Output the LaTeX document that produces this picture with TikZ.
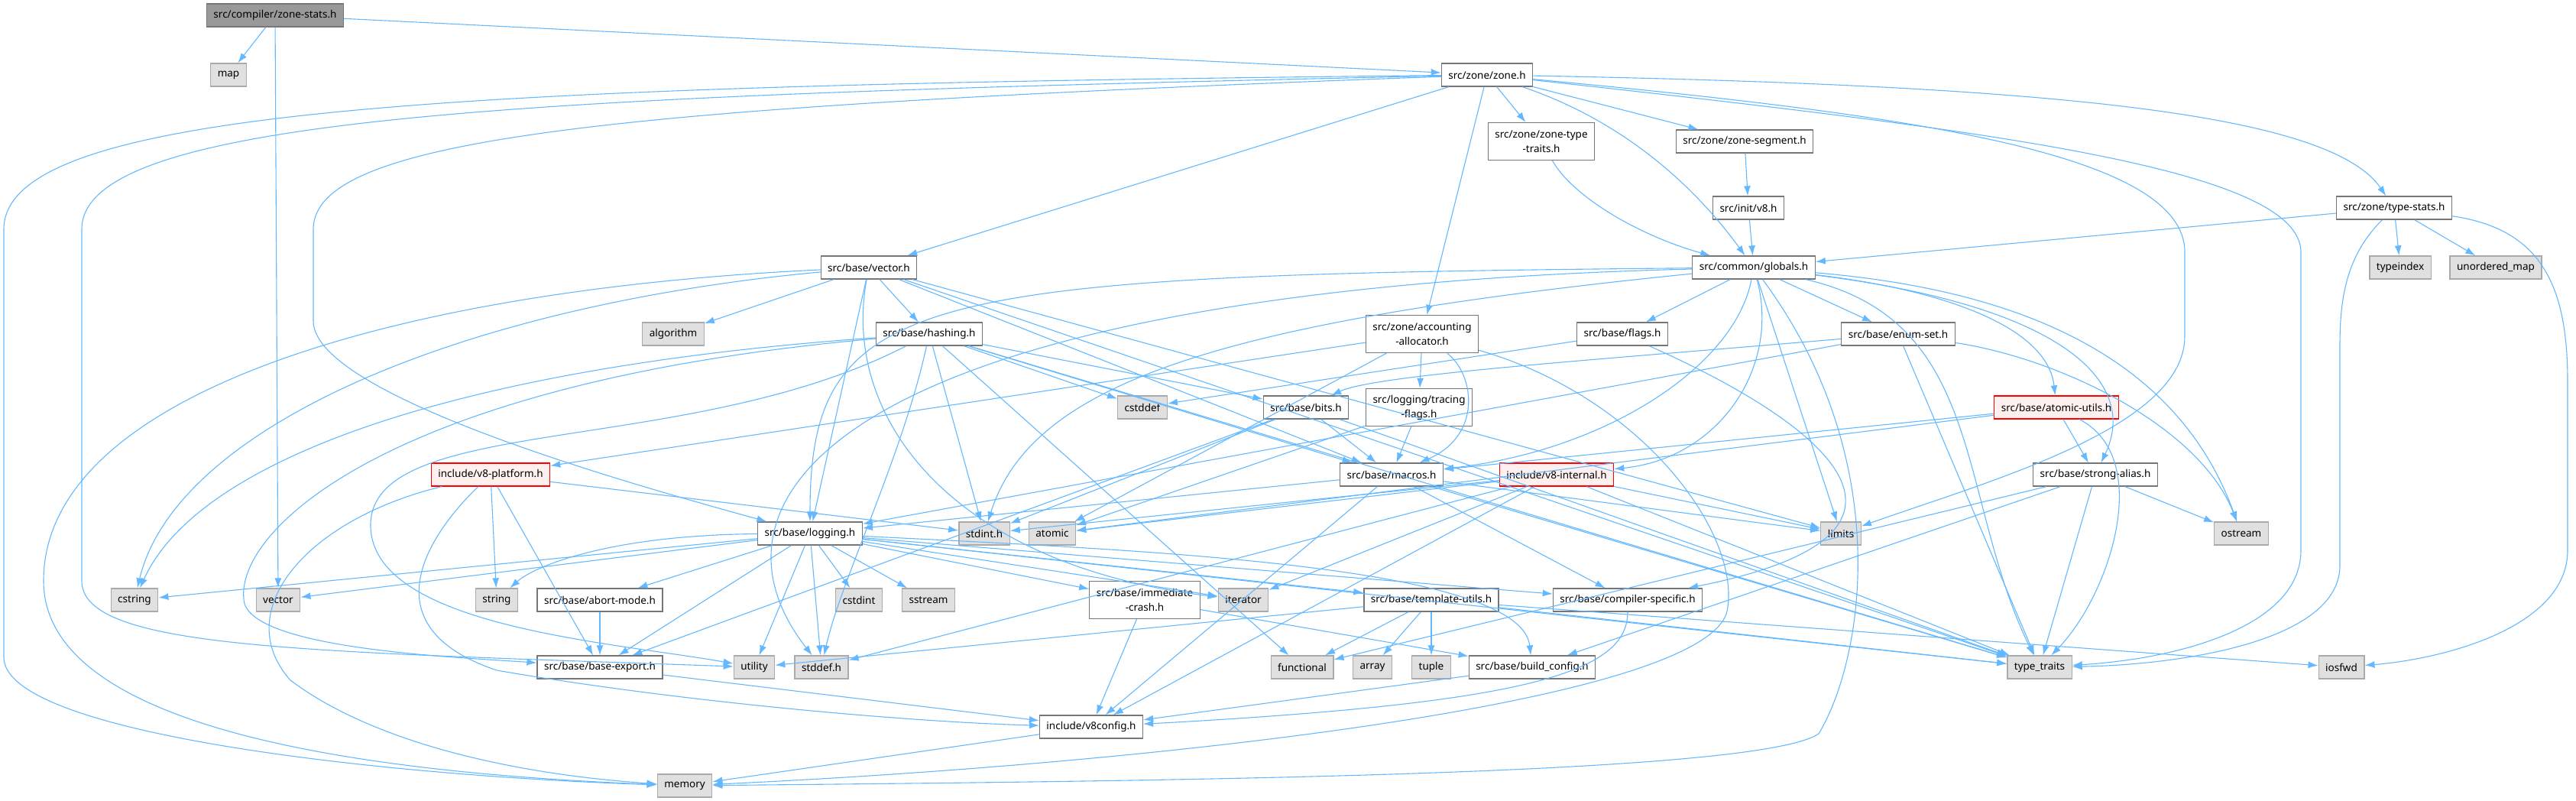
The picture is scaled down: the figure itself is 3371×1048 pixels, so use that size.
\documentclass[tikz,border=0pt]{standalone}
\usepackage{fontspec}
\setmainfont{Noto Sans}
\usetikzlibrary{arrows.meta}
\definecolor{EdgeBlue}{RGB}{99,184,255}
\definecolor{FileLine}{RGB}{118,118,118}
\definecolor{SysLine}{RGB}{170,170,170}
\definecolor{SysFill}{RGB}{224,224,224}
\definecolor{WarnFill}{RGB}{255,240,240}
\definecolor{RootFill}{RGB}{153,153,153}
\begin{document}
\begin{tikzpicture}[
x=1pt,y=-1pt,
box/.style={rectangle,draw=FileLine,fill=white,line width=1.3pt,minimum height=30pt,inner xsep=9pt,inner ysep=0pt,align=center,font=\fontsize{13.5}{19}\selectfont},
tall/.style={box,minimum height=49pt},
sys/.style={box,draw=SysLine,fill=SysFill},
warn/.style={box,draw=red,fill=WarnFill},
root/.style={box,draw=FileLine,fill=RootFill},
arrow/.style={-{Latex[length=13pt,width=9pt]},line width=1.1pt,draw=EdgeBlue}
]
\path[use as bounding box] (0,0) rectangle (3371,1048);
% nodes
\node[root] (zs) at (360,20) {src/compiler/zone-stats.h};
\node[sys] (map) at (299,98) {map};
\node[box] (zone) at (1946,98) {src/zone/zone.h};
\node[tall] (ztt) at (2017,185) {src/zone/zone-type\\-traits.h};
\node[box] (zseg) at (2283,185) {src/zone/zone-segment.h};
\node[box] (v8h) at (2288,272) {src/init/v8.h};
\node[box] (tstat) at (3133,272) {src/zone/type-stats.h};
\node[box] (glob) at (2295,350) {src/common/globals.h};
\node[sys] (tidx) at (3141,350) {typeindex};
\node[sys] (umap) at (3266,350) {unordered\_map};
\node[box] (bvec) at (1137,350) {src/base/vector.h};
\node[sys] (algo) at (881,437) {algorithm};
\node[box] (hash) at (1216,437) {src/base/hashing.h};
\node[tall] (acc) at (1861,437) {src/zone/accounting\\-allocator.h};
\node[box] (flags) at (2123,437) {src/base/flags.h};
\node[box] (eset) at (2484,437) {src/base/enum-set.h};
\node[sys] (cdef) at (1495,533) {cstddef};
\node[box] (bits) at (1709,533) {src/base/bits.h};
\node[tall] (trc) at (1857,533) {src/logging/tracing\\-flags.h};
\node[warn] (atu) at (2691,533) {src/base/atomic-utils.h};
\node[warn] (plat) at (642,621) {include/v8-platform.h};
\node[box] (mac) at (1821,621) {src/base/macros.h};
\node[warn] (v8i) at (2037,621) {include/v8-internal.h};
\node[box] (sal) at (2742,621) {src/base/strong-alias.h};
\node[box] (log) at (1060,698) {src/base/logging.h};
\node[sys] (sint) at (1288,698) {stdint.h};
\node[sys] (atom) at (1377,698) {atomic};
\node[sys] (lim) at (2409,698) {limits};
\node[sys] (ostr) at (2933,698) {ostream};
\node[sys] (cstr) at (176,785) {cstring};
\node[sys] (svec) at (364,785) {vector};
\node[sys] (str) at (650,785) {string};
\node[box] (abm) at (785,785) {src/base/abort-mode.h};
\node[sys] (cint) at (1124,785) {cstdint};
\node[sys] (sstr) at (1215,785) {sstream};
\node[tall] (icr) at (1498,785) {src/base/immediate\\-crash.h};
\node[sys] (iter) at (1627,785) {iterator};
\node[box] (tpl) at (1873,785) {src/base/template-utils.h};
\node[box] (comp) at (2130,785) {src/base/compiler-specific.h};
\node[box] (bexp) at (785,873) {src/base/base-export.h};
\node[sys] (util) at (987,873) {utility};
\node[sys] (sdef) at (1075,873) {stddef.h};
\node[sys] (func) at (1704,873) {functional};
\node[sys] (arr) at (1796,873) {array};
\node[sys] (tup) at (1873,873) {tuple};
\node[box] (bcfg) at (2005,873) {src/base/build\_config.h};
\node[sys] (tt) at (2669,873) {type\_traits};
\node[sys] (iosf) at (3064,873) {iosfwd};
\node[box] (v8c) at (1428,951) {include/v8config.h};
\node[sys] (mem) at (896,1028) {memory};
% zone-stats.h and zone.h
\draw[arrow] (zs)--(map); \draw[arrow] (zs)--(svec);
\draw[arrow] (zs)--(zone);
\draw[arrow] (zone)--(bvec); \draw[arrow] (zone)--(ztt);
\draw[arrow] (zone)--(zseg); \draw[arrow] (zone)--(acc);
\draw[arrow] (zone) .. controls (2100,150) and (2200,220) .. (glob);
\draw[arrow] (zone) .. controls (2700,112) and (3050,150) .. (tstat);
\draw[arrow] (zone) .. controls (2500,150) and (2859,200) .. (2859,330) -- (2859,440) .. controls (2859,560) and (2600,630) .. (lim);
\draw[arrow] (zone) .. controls (2600,170) and (3011,220) .. (3011,330) -- (3011,720) .. controls (3011,820) and (2850,862) .. (tt);
\draw[arrow] (zone) .. controls (600,112) and (5,140) .. (5,300) -- (5,860) .. controls (5,960) and (500,1015) .. (mem);
\draw[arrow] (zone) .. controls (700,125) and (107,150) .. (107,300) -- (107,760) .. controls (107,850) and (400,852) .. (util);
\draw[arrow] (zone) .. controls (800,140) and (410,180) .. (410,300) -- (410,420) .. controls (410,520) and (850,640) .. (log);
\draw[arrow] (ztt) .. controls (2060,260) and (2150,310) .. (glob);
\draw[arrow] (zseg)--(v8h); \draw[arrow] (v8h)--(glob);
% type-stats.h
\draw[arrow] (tstat)--(glob); \draw[arrow] (tstat)--(tidx);
\draw[arrow] (tstat)--(umap);
\draw[arrow] (tstat) .. controls (3075,330) and (3062,380) .. (3062,450) -- (3062,740) .. controls (3062,840) and (2850,870) .. (tt);
\draw[arrow] (tstat) .. controls (3330,300) and (3360,380) .. (3360,500) -- (3360,720) .. controls (3360,820) and (3200,862) .. (iosf);
% globals.h
\draw[arrow] (glob)--(flags); \draw[arrow] (glob)--(eset);
\draw[arrow] (glob)--(lim);
\draw[arrow] (glob) .. controls (2270,480) and (2100,590) .. (mac);
\draw[arrow] (glob) .. controls (2330,480) and (2250,600) .. (v8i);
\draw[arrow] (glob) .. controls (1200,360) and (1060,380) .. (log);
\draw[arrow] (glob) .. controls (1100,380) and (900,650) .. (sdef);
\draw[arrow] (glob) .. controls (1600,420) and (1350,500) .. (sint);
\draw[arrow] (glob) .. controls (2550,380) and (2680,430) .. (atu);
\draw[arrow] (glob) .. controls (2700,400) and (2800,500) .. (sal);
\draw[arrow] (glob) .. controls (2650,380) and (2850,470) .. (ostr);
\draw[arrow] (glob) .. controls (2600,420) and (2560,650) .. (tt);
\draw[arrow] (glob) .. controls (2480,600) and (2440,860) .. (2380,960) .. controls (2300,1015) and (1500,1022) .. (mem);
% vector.h and hashing.h
\draw[arrow] (bvec)--(algo); \draw[arrow] (bvec)--(hash);
\draw[arrow] (bvec)--(log); \draw[arrow] (bvec)--(lim);
\draw[arrow] (bvec)--(tt); \draw[arrow] (bvec)--(mac);
\draw[arrow] (bvec) .. controls (1100,550) and (1250,740) .. (iter);
\draw[arrow] (bvec) .. controls (500,380) and (57,520) .. (57,760) .. controls (57,960) and (500,1012) .. (mem);
\draw[arrow] (bvec) .. controls (600,400) and (230,560) .. (cstr);
\draw[arrow] (hash)--(cdef); \draw[arrow] (hash)--(bits);
\draw[arrow] (hash)--(sint); \draw[arrow] (hash)--(mac);
\draw[arrow] (hash)--(tt); \draw[arrow] (hash)--(func);
\draw[arrow] (hash) .. controls (1180,600) and (1100,760) .. (sdef);
\draw[arrow] (hash) .. controls (600,480) and (260,600) .. (cstr);
\draw[arrow] (hash) .. controls (500,500) and (300,700) .. (320,790) .. controls (340,850) and (600,860) .. (bexp);
\draw[arrow] (hash) .. controls (900,600) and (480,540) .. (485,690) .. controls (490,820) and (800,840) .. (util);
% accounting-allocator.h, bits.h, flags.h, enum-set.h
\draw[arrow] (acc)--(trc); \draw[arrow] (acc)--(plat);
\draw[arrow] (acc)--(atom);
\draw[arrow] (acc) .. controls (1930,490) and (1940,570) .. (mac);
\draw[arrow] (acc) .. controls (2150,520) and (2280,700) .. (2260,800) .. controls (2230,920) and (1500,1000) .. (mem);
\draw[arrow] (trc)--(mac); \draw[arrow] (trc)--(atom);
\draw[arrow] (bits)--(mac); \draw[arrow] (bits)--(sint);
\draw[arrow] (bits)--(tt); \draw[arrow] (bits)--(bexp);
\draw[arrow] (flags)--(cdef);
\draw[arrow] (flags) .. controls (2400,560) and (2560,700) .. (comp);
\draw[arrow] (eset)--(log); \draw[arrow] (eset)--(tt);
\draw[arrow] (eset) .. controls (2100,470) and (1800,490) .. (bits);
\draw[arrow] (eset) .. controls (2700,470) and (2880,560) .. (ostr);
% atomic-utils.h, strong-alias.h, v8-platform.h
\draw[arrow] (atu)--(mac); \draw[arrow] (atu)--(sal);
\draw[arrow] (atu)--(atom);
\draw[arrow] (atu) .. controls (2820,600) and (2760,780) .. (tt);
\draw[arrow] (sal)--(ostr); \draw[arrow] (sal)--(tt);
\draw[arrow] (sal)--(func); \draw[arrow] (sal)--(bcfg);
\draw[arrow] (plat)--(sint); \draw[arrow] (plat)--(str);
\draw[arrow] (plat)--(bexp);
\draw[arrow] (plat) .. controls (400,680) and (300,800) .. (380,890) .. controls (500,980) and (700,1015) .. (mem);
\draw[arrow] (plat) .. controls (560,700) and (480,820) .. (650,877) .. controls (900,920) and (1200,945) .. (v8c);
% macros.h and v8-internal.h
\draw[arrow] (mac)--(log); \draw[arrow] (mac)--(comp);
\draw[arrow] (mac)--(lim); \draw[arrow] (mac)--(tt);
\draw[arrow] (mac)--(v8c);
\draw[arrow] (v8i)--(sint); \draw[arrow] (v8i)--(atom);
\draw[arrow] (v8i)--(sdef); \draw[arrow] (v8i)--(lim);
\draw[arrow] (v8i)--(iter); \draw[arrow] (v8i)--(tt);
\draw[arrow] (v8i)--(v8c);
% logging.h
\draw[arrow] (log)--(cstr); \draw[arrow] (log)--(svec);
\draw[arrow] (log)--(abm); \draw[arrow] (log)--(bexp);
\draw[arrow] (log)--(util); \draw[arrow] (log)--(sdef);
\draw[arrow] (log)--(cint); \draw[arrow] (log)--(sstr);
\draw[arrow] (log)--(icr); \draw[arrow] (log)--(iter);
\draw[arrow] (log)--(tpl); \draw[arrow] (log)--(comp);
\draw[arrow] (log)--(tt);
\draw[arrow] (log) .. controls (800,700) and (700,740) .. (str);
\draw[arrow] (log) .. controls (1500,720) and (1990,740) .. (bcfg);
% the rest
\draw[arrow] (icr)--(v8c); \draw[arrow] (icr)--(bcfg);
\draw[arrow] (tpl)--(func); \draw[arrow] (tpl)--(arr);
\draw[arrow] (tpl)--(tup); \draw[arrow] (tpl)--(util);
\draw[arrow] (tpl)--(iosf); \draw[arrow] (tpl)--(tt);
\draw[arrow] (comp) .. controls (2130,880) and (2000,920) .. (v8c);
\draw[arrow] (bcfg)--(v8c); \draw[arrow] (abm)--(bexp);
\draw[arrow] (bexp)--(v8c); \draw[arrow] (v8c)--(mem);
\end{tikzpicture}
\end{document}
